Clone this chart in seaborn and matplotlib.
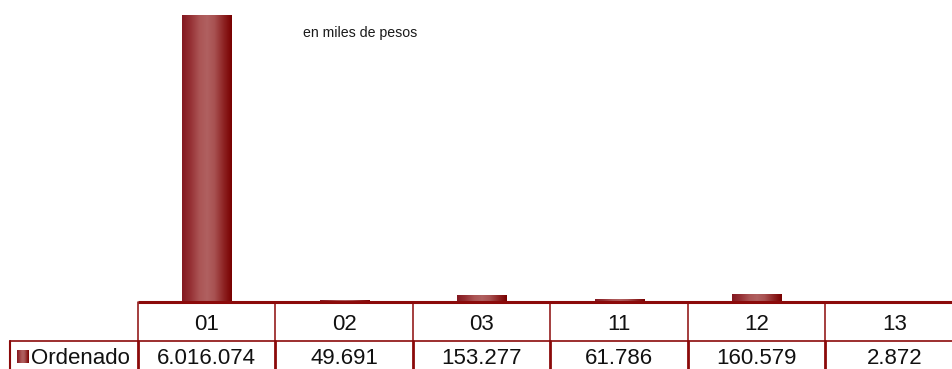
import numpy as np
import pandas as pd
import matplotlib
matplotlib.use("Agg")
import matplotlib.pyplot as plt
from matplotlib.colors import LinearSegmentedColormap
import seaborn as sns

# Data
categories = ["01", "02", "03", "11", "12", "13"]
ordenado = [6016074, 49691, 153277, 61786, 160579, 2872]
value_labels = ["6.016.074", "49.691", "153.277", "61.786", "160.579", "2.872"]
series_name = "Ordenado"
note = "en miles de pesos"

sns.set_theme(style="white")
plt.rcParams["font.family"] = ["Liberation Sans", "DejaVu Sans"]

W, H = 953, 369
fig = plt.figure(figsize=(W / 100, H / 100), dpi=100)

# Layout in pixels
left_px, right_px = 138, 963
axis_y = 302
row1_bottom = 341
col_w = (right_px - left_px) / len(categories)

ax = fig.add_axes([left_px / W, (H - axis_y) / H, (right_px - left_px) / W, axis_y / H])
df = pd.DataFrame({"cat": categories, "val": ordenado})
sns.barplot(data=df, x="cat", y="val", ax=ax, color="#9b3030", width=0.36,
            linewidth=0, saturation=1)
ax.set_xlim(-0.5, len(categories) - 0.5)
ymax = 6.33e6
ax.set_ylim(0, ymax)
ax.axis("off")

# Cylinder-like shading on each bar
shade = LinearSegmentedColormap.from_list(
    "shade", [(0.0, "#841820"), (0.15, "#932d31"), (0.35, "#ab5555"),
              (0.5, "#b06060"), (0.65, "#a85252"), (0.85, "#8c2020"), (1.0, "#780000")])
grad = np.linspace(0, 1, 256).reshape(1, -1)
for p in list(ax.patches):
    x0, y0 = p.get_x(), p.get_y()
    w, h = p.get_width(), p.get_height()
    im = ax.imshow(grad, cmap=shade, aspect="auto",
                   extent=[x0, x0 + w, y0, y0 + max(h, 1)], zorder=3)
    im.set_clip_path(p)
ax.set_xlim(-0.5, len(categories) - 0.5)
ax.set_ylim(0, ymax)

fig.text(303 / W, 1 - 33 / H, note, fontsize=10.2,
         color="#1a1a1a", va="center", ha="left")

# Data table below the bars, drawn in pixel coordinates
tab = fig.add_axes([0, 0, 1, 1], zorder=5)
tab.set_xlim(0, W)
tab.set_ylim(H, 0)
tab.axis("off")
tab.patch.set_alpha(0)

line_c = "#8b0a0a"
tab.plot([left_px, W + 20], [axis_y, axis_y], color=line_c, lw=2.2, solid_capstyle="butt")
tab.plot([10, W + 20], [row1_bottom, row1_bottom], color=line_c, lw=1.2)
tab.plot([10, 10], [row1_bottom, H + 5], color=line_c, lw=1.5)
for i in range(len(categories) + 1):
    x = left_px + i * col_w
    tab.plot([x, x], [axis_y, row1_bottom], color=line_c, lw=1.1)
    tab.plot([x, x], [row1_bottom, H + 5], color=line_c, lw=2.0)

for i, (c, v) in enumerate(zip(categories, value_labels)):
    cx = left_px + (i + 0.5) * col_w
    tab.text(cx, 324, c, fontsize=16, ha="center", va="center", color="#111111")
    tab.text(cx, 358, v, fontsize=16, ha="center", va="center", color="#111111")

# Legend key with the same shading
key = tab.imshow(grad, cmap=shade, aspect="auto", extent=[17, 29, 363, 350], zorder=6)
tab.set_xlim(0, W)
tab.set_ylim(H, 0)
tab.text(31, 358, series_name, fontsize=16, ha="left", va="center", color="#111111")

fig.savefig("out.png", dpi=100)
